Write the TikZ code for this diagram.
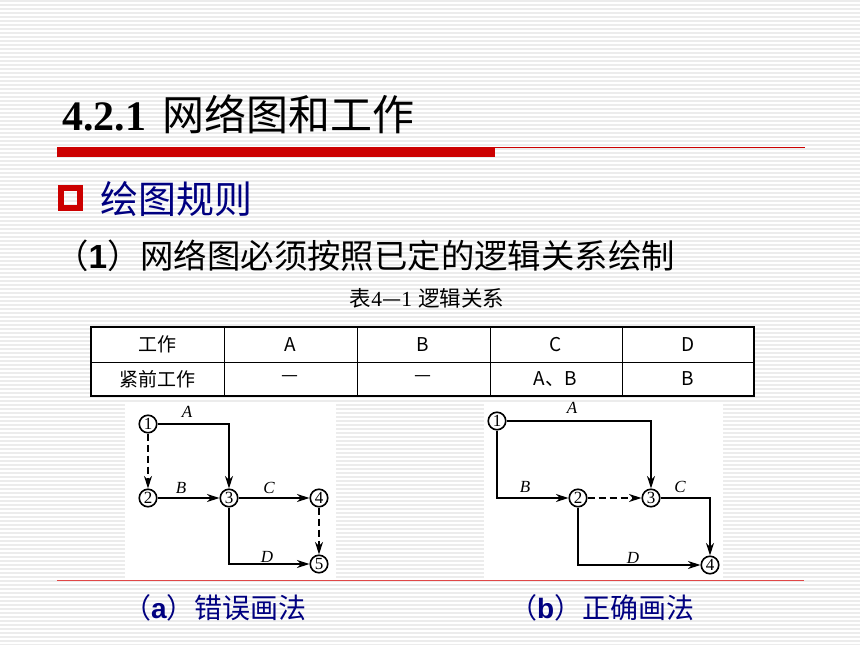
\documentclass[tikz,border=0pt]{standalone}
\usepackage{fontspec}
\setmainfont{Liberation Serif}
\newfontfamily\cjk{Noto Sans CJK SC}
\newfontfamily\hei{Liberation Sans}
\usetikzlibrary{arrows.meta}
\definecolor{barred}{RGB}{204,0,0}
\definecolor{linered}{RGB}{224,70,70}
\definecolor{navy}{RGB}{0,0,128}
\definecolor{stripe}{RGB}{236,236,236}
\tikzset{
  event/.style={circle,draw,line width=1.6pt,inner sep=0pt,minimum size=17.5pt,
    font=\fontsize{17}{17}\selectfont},
  act/.style={line width=1.6pt,-{Stealth[length=12.5pt,width=8pt]}},
  dummy/.style={act,dash pattern=on 7pt off 4pt},
  lbl/.style={font=\fontsize{17}{17}\selectfont\itshape},
  cell/.style={font=\cjk\fontsize{19}{19}\selectfont,inner sep=0pt},
}
\begin{document}
\begin{tikzpicture}[x=1pt,y=-1pt]
\useasboundingbox (0,0) rectangle (860,645);
% striped background
\foreach \y in {1,5,...,645}
  \draw[stripe,line width=1.6pt] (0,\y)--(860,\y);
% title and rules
\node[anchor=base west,inner sep=0pt,font=\fontsize{42}{42}\selectfont\bfseries] (title) at (62,130)
  {4.2.1\hspace{16pt}{\cjk\mdseries 网络图和工作}};
\fill[barred] (57,147) rectangle (495,157);
\draw[barred,line width=1.2pt] (495,147.6)--(805,147.6);
\draw[barred,line width=6pt] (61,188) rectangle (80,208);
\node[anchor=base west,inner sep=0pt,text=navy,font=\cjk\fontsize{38}{38}\selectfont] (rule) at (100,213) {绘图规则};
\node[anchor=base west,inner sep=0pt,font=\cjk\fontsize{33.4}{33.4}\selectfont] (rule1) at (55,268)
  {（{\hei\bfseries 1}）网络图必须按照已定的逻辑关系绘制};
% table 4-1
\node[anchor=base,inner sep=0pt,font=\cjk\fontsize{21.5}{21.5}\selectfont] (tabcap) at (427,306)
  {表{\rmfamily 4}—{\rmfamily 1}\hspace{6pt}逻辑关系};
\fill[white] (91,327) rectangle (754,396);
\draw[line width=1pt] (91,362)--(754,362);
\foreach \x in {224,357,490,622}
  \draw[line width=1pt] (\x,327)--(\x,396);
\draw[line width=2pt] (91,327) rectangle (754,396);
\foreach \t [count=\i] in {工作,A,B,C,D}
  \node[cell] (h\i) at ({91+132.6*(\i-0.5)},344.5) {\t};
\foreach \t [count=\i] in {紧前工作,—,—,A、B,B}
  \node[cell] (p\i) at ({91+132.6*(\i-0.5)},379) {\t};
% (a) wrong drawing
\fill[white] (125,403) rectangle (336,578);
\node[event] (a1) at (148,424) {1};
\node[event] (a2) at (148,498) {2};
\node[event] (a3) at (229,498) {3};
\node[event] (a4) at (319,498) {4};
\node[event] (a5) at (319,564) {5};
\draw[act] (a1) -| (a3);
\draw[dummy] (a1) -- (a2);
\draw[act] (a2) -- (a3);
\draw[act] (a3) -- (a4);
\draw[dummy] (a4) -- (a5);
\draw[act] (a3) |- (a5);
\node[lbl] (aA) at (187,412) {A};
\node[lbl] (aB) at (181,488) {B};
\node[lbl] (aC) at (269,488) {C};
\node[lbl] (aD) at (267,557) {D};
% (b) right drawing
\fill[white] (484,403) rectangle (723,578);
\node[event] (b1) at (497,421) {1};
\node[event] (b2) at (578,498) {2};
\node[event] (b3) at (651,498) {3};
\node[event] (b4) at (710,565) {4};
\draw[act] (b1) -| (b3);
\draw[act] (b1) |- (b2);
\draw[dummy] (b2) -- (b3);
\draw[act] (b3) -| (b4);
\draw[act] (b2) |- (b4);
\node[lbl] (bA) at (572,408) {A};
\node[lbl] (bB) at (525,487) {B};
\node[lbl] (bC) at (680,487) {C};
\node[lbl] (bD) at (633,558) {D};
% captions
\draw[linered,line width=1pt] (57,580.5)--(804,580.5);
\node[anchor=base west,inner sep=0pt,text=navy,font=\cjk\fontsize{28}{28}\selectfont] (capa) at (123,618)
  {（{\hei\bfseries a}）错误画法};
\node[anchor=base west,inner sep=0pt,text=navy,font=\cjk\fontsize{28}{28}\selectfont] (capb) at (509,618)
  {（{\hei\bfseries b}）正确画法};
\end{tikzpicture}
\end{document}
